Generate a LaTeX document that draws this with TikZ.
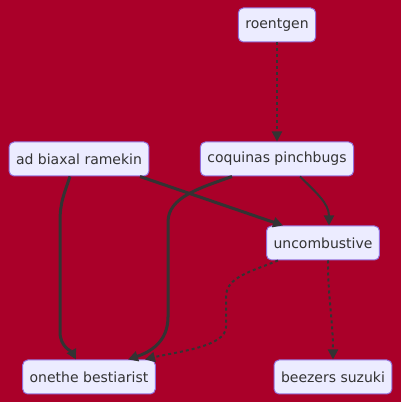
\documentclass[tikz,border=0pt]{standalone}
\usepackage{fontspec}
\setmainfont{DejaVu Sans}
\usetikzlibrary{arrows.meta}
\definecolor{bgred}{RGB}{170,0,41}
\definecolor{boxfill}{HTML}{ECECFF}
\definecolor{boxline}{HTML}{9370DB}
\definecolor{ink}{HTML}{333333}
\begin{document}
\begin{tikzpicture}[x=1pt,y=1pt,
    box/.style={draw=boxline,fill=boxfill,line width=1pt,rounded corners=5pt,
      minimum height=34pt,inner xsep=7pt,text=ink,font=\fontsize{14}{16}\selectfont},
    edge/.style={draw=ink,line width=2pt,->,>={Triangle[length=10pt,width=10pt]}},
    thickedge/.style={edge,line width=3pt},
    dotedge/.style={edge,dash pattern=on 3pt off 3pt}]
  \fill[bgred] (0,0) rectangle (401,402);
  \useasboundingbox (0,0) rectangle (401,402);
  \node[box] (ro) at (277,377) {roentgen};
  \node[box] (ad) at (79,243) {ad biaxal ramekin};
  \node[box] (co) at (277,243) {coquinas pinchbugs};
  \node[box] (un) at (323,159) {uncombustive};
  \node[box] (on) at (89,25) {onethe bestiarist};
  \node[box] (be) at (333,25) {beezers suzuki};
  \draw[dotedge] (ro) -- (co);
  \draw[thickedge] ([xshift=-9pt]ad.south) .. controls +(-6,-18) and +(0,20) .. (60,180)
    -- (60,70) .. controls (60,55) and (72,50) .. ([xshift=-13pt]on.north);
  \draw[thickedge] ([xshift=61pt]ad.south) -- ([xshift=-40pt]un.north);
  \draw[thickedge] ([xshift=-45pt]co.south) .. controls (200,214) and (168,205) .. (168,180)
    -- (168,85) .. controls (168,60) and (150,50) .. ([xshift=39pt]on.north);
  \draw[edge] ([xshift=23pt]co.south) to[out=-45,in=90] ([xshift=6pt]un.north);
  \draw[dotedge] ([xshift=-45pt]un.south) .. controls (250,130) and (226,125) .. (226,105)
    -- (226,75) .. controls (226,55) and (175,50) .. ([xshift=56pt]on.north);
  \draw[dotedge] ([xshift=5pt]un.south) to[out=-90,in=90] (be.north);
\end{tikzpicture}
\end{document}
